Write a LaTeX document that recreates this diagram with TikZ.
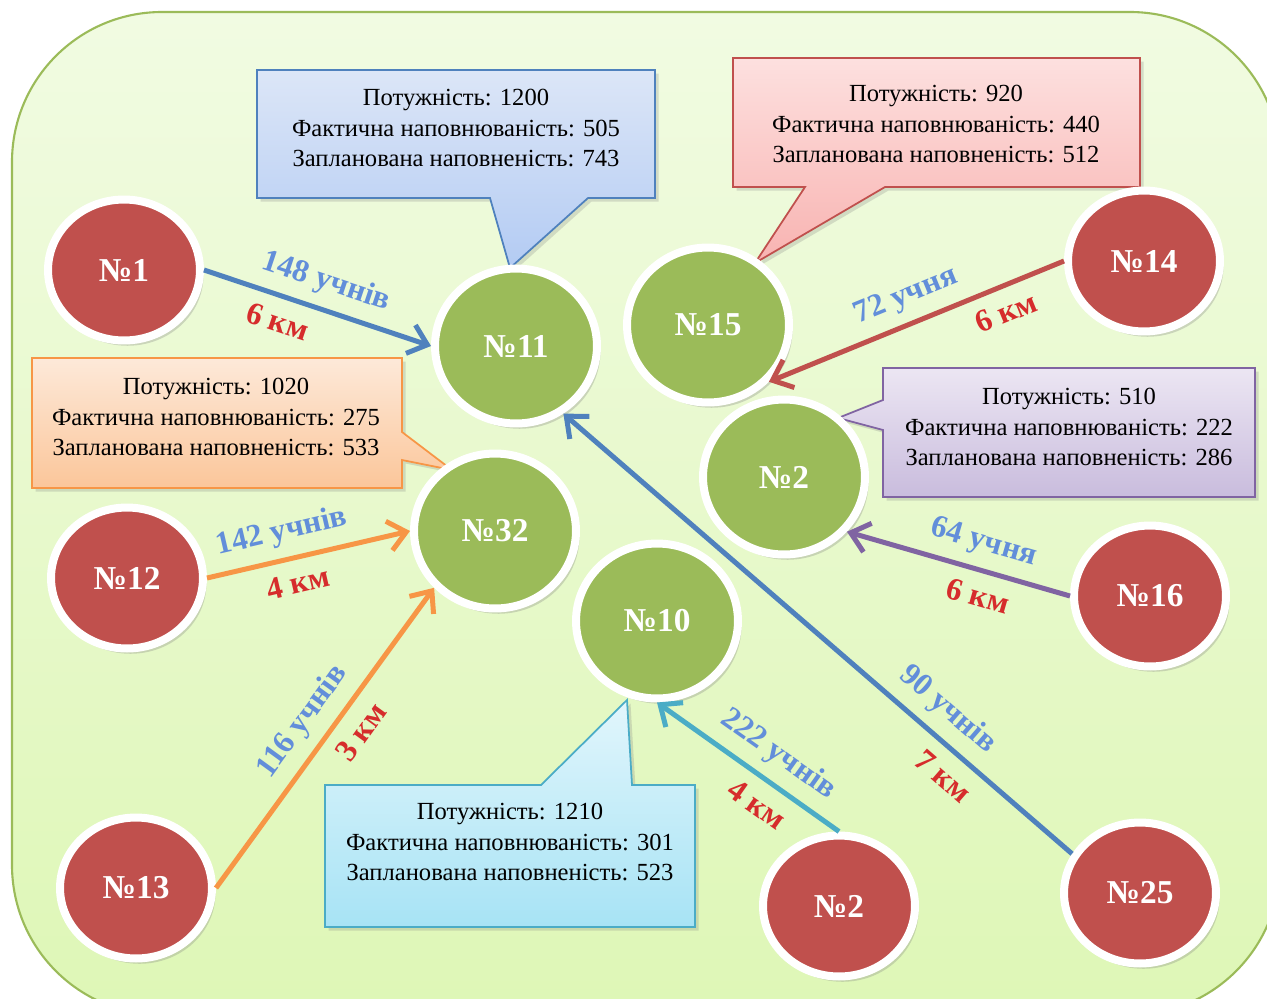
\documentclass[tikz,border=0pt]{standalone}
\usepackage{fontspec}
\setmainfont{Liberation Serif}
\usepackage{tikz}
\usetikzlibrary{arrows.meta, shapes.geometric, shadows}

\definecolor{schgreen}{HTML}{9BBB59}
\definecolor{schred}{HTML}{C0504D}
\definecolor{lnblue}{HTML}{4F81BD}
\definecolor{lnorange}{HTML}{F79646}
\definecolor{lnteal}{HTML}{4BACC6}
\definecolor{lnpurple}{HTML}{8064A2}
\definecolor{cntblue}{RGB}{98,142,218}
\definecolor{kmred}{RGB}{214,44,44}

\begin{document}
\begin{tikzpicture}[
    x=0.02cm, y=-0.02cm,
    school/.style = {ellipse, draw=white, line width=0.16cm, text=white,
                     font=\fontsize{19}{22}\selectfont\bfseries,
                     drop shadow={opacity=0.3, shadow xshift=2pt, shadow yshift=-3pt}},
    hub/.style    = {school, fill=schgreen, minimum width=3.24cm, minimum height=3.1cm},
    feeder/.style = {school, fill=schred, minimum width=3.04cm, minimum height=2.82cm},
    arr/.style    = {-{Straight Barb[length=10pt, width=17pt]}, line width=0.1cm},
    cnt/.style    = {sloped, above=5pt, inner sep=1pt, text=cntblue,
                     font=\fontsize{18}{20}\selectfont\bfseries},
    km/.style     = {sloped, below=6pt, inner sep=1pt, text=kmred,
                     font=\fontsize{18}{20}\selectfont\bfseries},
    info/.style   = {align=center, font=\fontsize{14}{17.6}\selectfont},
    call/.style   = {line width=1pt,
                     drop shadow={opacity=0.25, shadow xshift=2pt, shadow yshift=-2pt}},
  ]
  \useasboundingbox (0,0) rectangle (1267,998);
  % background panel
  \path[draw=schgreen, line width=1.2pt, top color={rgb,255:red,241;green,251;blue,226},
        bottom color={rgb,255:red,222;green,247;blue,182}, rounded corners=3cm]
    (12,12) rectangle (1280,1015);

  % callouts
  \path[call, draw=lnblue, top color={rgb,255:red,220;green,230;blue,247},
        bottom color={rgb,255:red,179;green,203;blue,243}]
    (257,70) -- (655,70) -- (655,198) -- (588,198) -- (510,268) -- (490,198) -- (257,198) -- cycle;
  \node[info] (info11) at (456,128) {Потужність: 1200\\Фактична наповнюваність: 505\\Запланована наповненість: 743};

  \path[call, draw=schred, top color={rgb,255:red,253;green,224;blue,223},
        bottom color={rgb,255:red,248;green,179;blue,177}]
    (733,58) -- (1140,58) -- (1140,187) -- (885,187) -- (755,263) -- (805,187) -- (733,187) -- cycle;
  \node[info] (info15) at (936,124) {Потужність: 920\\Фактична наповнюваність: 440\\Запланована наповненість: 512};

  \path[call, draw=lnorange, top color={rgb,255:red,253;green,233;blue,217},
        bottom color={rgb,255:red,251;green,198;blue,154}]
    (32,358) -- (402,358) -- (402,432) -- (452,470) -- (402,460) -- (402,488) -- (32,488) -- cycle;
  \node[info] (info32) at (216,417) {Потужність: 1020\\Фактична наповнюваність: 275\\Запланована наповненість: 533};

  \path[call, draw=lnpurple, top color={rgb,255:red,236;green,230;blue,243},
        bottom color={rgb,255:red,201;green,188;blue,221}]
    (883,368) -- (1255,368) -- (1255,497) -- (883,497) -- (883,430) -- (838,418) -- (883,400) -- cycle;
  \node[info] (info2) at (1069,427) {Потужність: 510\\Фактична наповнюваність: 222\\Запланована наповненість: 286};

  \path[call, draw=lnteal, top color={rgb,255:red,226;green,246;blue,252},
        bottom color={rgb,255:red,167;green,227;blue,245}]
    (325,785) -- (541,785) -- (627,700) -- (632,785) -- (695,785) -- (695,927) -- (325,927) -- cycle;
  \node[info] (info10) at (510,842) {Потужність: 1210\\Фактична наповнюваність: 301\\Запланована наповненість: 523};

  % schools
  \node[feeder] (n1)  at (124,270)  {№1};
  \node[hub]    (n11) at (516,346)  {№11};
  \node[hub]    (n15) at (708,325)  {№15};
  \node[feeder] (n14) at (1144,261) {№14};
  \node[hub]    (n2)  at (784,477)  {№2};
  \node[hub]    (n32) at (495,531)  {№32};
  \node[feeder] (n12) at (127,578)  {№12};
  \node[feeder] (n16) at (1150,596) {№16};
  \node[hub]    (n10) at (657,621)  {№10};
  \node[feeder] (n13) at (136,888)  {№13};
  \node[feeder] (n2b) at (839,906)  {№2};
  \node[feeder] (n25) at (1140,893) {№25};

  % routes
  \draw[arr, lnblue] (n1.east) -- node[cnt, pos=.5] {148 учнів} node[km, pos=.36] {6 км} (n11.west);
  \draw[arr, lnorange] (n12.east) -- node[cnt, pos=.4] {142 учнів} node[km, pos=.42] {4 км} (n32.west);
  \draw[arr, lnorange] (n13.east) -- node[cnt, pos=.5] {116 учнів} node[km, pos=.57] {3 км} (n32.223);
  \draw[arr, lnteal] (n2b.north) -- node[cnt, pos=.42] {222 учнів} node[km, pos=.37] {4 км} (n10.south);
  \draw[arr, lnblue] (n25.150) -- node[cnt, pos=.28] {90 учнів} node[km, pos=.22] {7 км} (n11.305);
  \draw[arr, schred] (n14.west) -- node[cnt, pos=.5] {72 учня} node[km, pos=.23] {6 км} (n15.317);
  \draw[arr, lnpurple] (n16.west) -- node[cnt, pos=.42] {64 учня} node[km, pos=.38] {6 км} (n2.319);
\end{tikzpicture}
\end{document}
